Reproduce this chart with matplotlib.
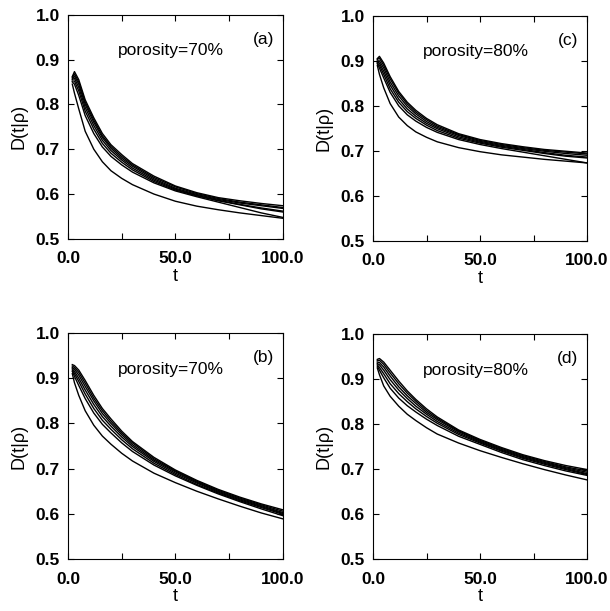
import numpy as np
import matplotlib.pyplot as plt
from matplotlib.ticker import MultipleLocator, FixedLocator

plt.rcParams['font.family'] = ['Liberation Sans', 'DejaVu Sans']

t = [2, 3, 5, 8, 12, 16, 20, 25, 30, 40, 50, 60, 70, 80, 90, 100]

# panel (a): porosity 70%
curves_a = [
    [0.862, 0.873, 0.855, 0.810, 0.770, 0.735, 0.710, 0.688, 0.668, 0.640, 0.618, 0.603, 0.592, 0.585, 0.579, 0.574],
    [0.860, 0.868, 0.850, 0.805, 0.765, 0.730, 0.706, 0.684, 0.665, 0.637, 0.616, 0.601, 0.590, 0.582, 0.576, 0.570],
    [0.857, 0.863, 0.845, 0.800, 0.760, 0.726, 0.702, 0.680, 0.662, 0.634, 0.613, 0.599, 0.588, 0.580, 0.574, 0.568],
    [0.855, 0.858, 0.838, 0.793, 0.753, 0.720, 0.697, 0.676, 0.658, 0.631, 0.611, 0.597, 0.586, 0.577, 0.569, 0.562],
    [0.852, 0.852, 0.830, 0.785, 0.745, 0.713, 0.691, 0.671, 0.654, 0.628, 0.609, 0.596, 0.585, 0.576, 0.567, 0.560],
    [0.850, 0.845, 0.820, 0.775, 0.735, 0.705, 0.684, 0.665, 0.649, 0.625, 0.607, 0.594, 0.582, 0.570, 0.558, 0.548],
    [0.845, 0.825, 0.790, 0.740, 0.700, 0.672, 0.652, 0.635, 0.621, 0.600, 0.584, 0.573, 0.565, 0.558, 0.552, 0.546],
]

# panel (b): porosity 70%
curves_b = [
    [0.930, 0.928, 0.918, 0.895, 0.862, 0.833, 0.810, 0.783, 0.760, 0.725, 0.697, 0.674, 0.654, 0.637, 0.622, 0.609],
    [0.927, 0.924, 0.913, 0.889, 0.856, 0.828, 0.805, 0.779, 0.757, 0.722, 0.695, 0.672, 0.652, 0.635, 0.620, 0.606],
    [0.924, 0.920, 0.907, 0.882, 0.850, 0.822, 0.800, 0.775, 0.753, 0.719, 0.693, 0.670, 0.650, 0.633, 0.618, 0.603],
    [0.921, 0.915, 0.900, 0.874, 0.842, 0.815, 0.794, 0.770, 0.749, 0.716, 0.690, 0.668, 0.648, 0.631, 0.616, 0.601],
    [0.918, 0.910, 0.893, 0.865, 0.833, 0.807, 0.787, 0.764, 0.744, 0.712, 0.687, 0.665, 0.646, 0.629, 0.614, 0.599],
    [0.915, 0.904, 0.884, 0.855, 0.823, 0.798, 0.779, 0.757, 0.738, 0.708, 0.684, 0.663, 0.644, 0.627, 0.611, 0.596],
    [0.910, 0.890, 0.862, 0.828, 0.796, 0.772, 0.754, 0.734, 0.717, 0.690, 0.669, 0.650, 0.633, 0.617, 0.602, 0.589],
]

# panel (c): porosity 80%
curves_c = [
    [0.905, 0.910, 0.895, 0.865, 0.832, 0.808, 0.790, 0.772, 0.758, 0.738, 0.725, 0.716, 0.709, 0.703, 0.699, 0.695],
    [0.903, 0.906, 0.890, 0.860, 0.828, 0.804, 0.786, 0.769, 0.755, 0.736, 0.723, 0.714, 0.707, 0.701, 0.697, 0.693],
    [0.900, 0.900, 0.884, 0.853, 0.822, 0.799, 0.782, 0.765, 0.752, 0.734, 0.721, 0.712, 0.705, 0.699, 0.694, 0.690],
    [0.898, 0.895, 0.877, 0.846, 0.815, 0.793, 0.777, 0.761, 0.749, 0.731, 0.719, 0.710, 0.703, 0.696, 0.690, 0.686],
    [0.896, 0.890, 0.870, 0.838, 0.808, 0.787, 0.772, 0.757, 0.745, 0.728, 0.717, 0.708, 0.701, 0.694, 0.688, 0.684],
    [0.894, 0.884, 0.862, 0.830, 0.800, 0.780, 0.766, 0.752, 0.741, 0.725, 0.714, 0.705, 0.697, 0.689, 0.681, 0.673],
    [0.890, 0.870, 0.840, 0.805, 0.775, 0.756, 0.742, 0.730, 0.720, 0.707, 0.698, 0.691, 0.686, 0.681, 0.677, 0.673],
]

# panel (d): porosity 80%
curves_d = [
    [0.944, 0.946, 0.938, 0.920, 0.896, 0.874, 0.855, 0.834, 0.816, 0.787, 0.766, 0.748, 0.732, 0.719, 0.708, 0.699],
    [0.941, 0.942, 0.933, 0.914, 0.890, 0.869, 0.851, 0.830, 0.813, 0.785, 0.764, 0.746, 0.730, 0.717, 0.705, 0.696],
    [0.938, 0.937, 0.927, 0.907, 0.883, 0.863, 0.846, 0.826, 0.810, 0.783, 0.762, 0.744, 0.728, 0.715, 0.703, 0.693],
    [0.935, 0.932, 0.920, 0.899, 0.876, 0.857, 0.840, 0.822, 0.806, 0.780, 0.760, 0.742, 0.726, 0.713, 0.701, 0.690],
    [0.932, 0.926, 0.912, 0.890, 0.868, 0.850, 0.834, 0.817, 0.802, 0.777, 0.758, 0.740, 0.724, 0.711, 0.699, 0.688],
    [0.929, 0.920, 0.903, 0.880, 0.858, 0.841, 0.827, 0.811, 0.797, 0.773, 0.755, 0.737, 0.721, 0.708, 0.696, 0.686],
    [0.925, 0.910, 0.885, 0.862, 0.840, 0.822, 0.808, 0.792, 0.778, 0.758, 0.741, 0.726, 0.712, 0.699, 0.687, 0.676],
]

panels = [
    ('(a)', 'porosity=70%', curves_a, [0.1115, 0.609, 0.352, 0.367]),
    ('(c)', 'porosity=80%', curves_c, [0.6115, 0.606, 0.351, 0.368]),
    ('(b)', 'porosity=70%', curves_b, [0.1115, 0.085, 0.352, 0.370]),
    ('(d)', 'porosity=80%', curves_d, [0.6115, 0.085, 0.351, 0.368]),
]

fig = plt.figure(figsize=(6.1, 6.11), dpi=100)

for tag, label, curves, pos in panels:
    ax = fig.add_axes(pos)
    for y in curves:
        ax.plot(t, y, color='black', lw=1.0)
    ax.set_xlim(0, 100)
    ax.set_ylim(0.5, 1.0)
    ax.xaxis.set_major_locator(FixedLocator([0, 50, 100]))
    ax.xaxis.set_minor_locator(FixedLocator([25, 75]))
    ax.yaxis.set_major_locator(MultipleLocator(0.1))
    ax.set_xticklabels(['0.0', '50.0', '100.0'])
    ax.tick_params(which='both', direction='in', top=True, right=True,
                   length=4, width=0.8, labelsize=12.5, pad=6)
    ax.tick_params(axis='x', which='major', pad=9)
    for lab in ax.get_xticklabels() + ax.get_yticklabels():
        lab.set_fontweight('bold')
    for s in ax.spines.values():
        s.set_linewidth(0.8)
    ax.set_xlabel('t', fontsize=13, labelpad=1)
    ax.set_ylabel('D(t|ρ)', fontsize=13, labelpad=6)
    ax.text(48, 0.92, label, fontsize=12.5, ha='center', va='center')
    ax.text(91, 0.945, tag, fontsize=12.5, ha='center', va='center')

fig.savefig('out.png', dpi=100)
